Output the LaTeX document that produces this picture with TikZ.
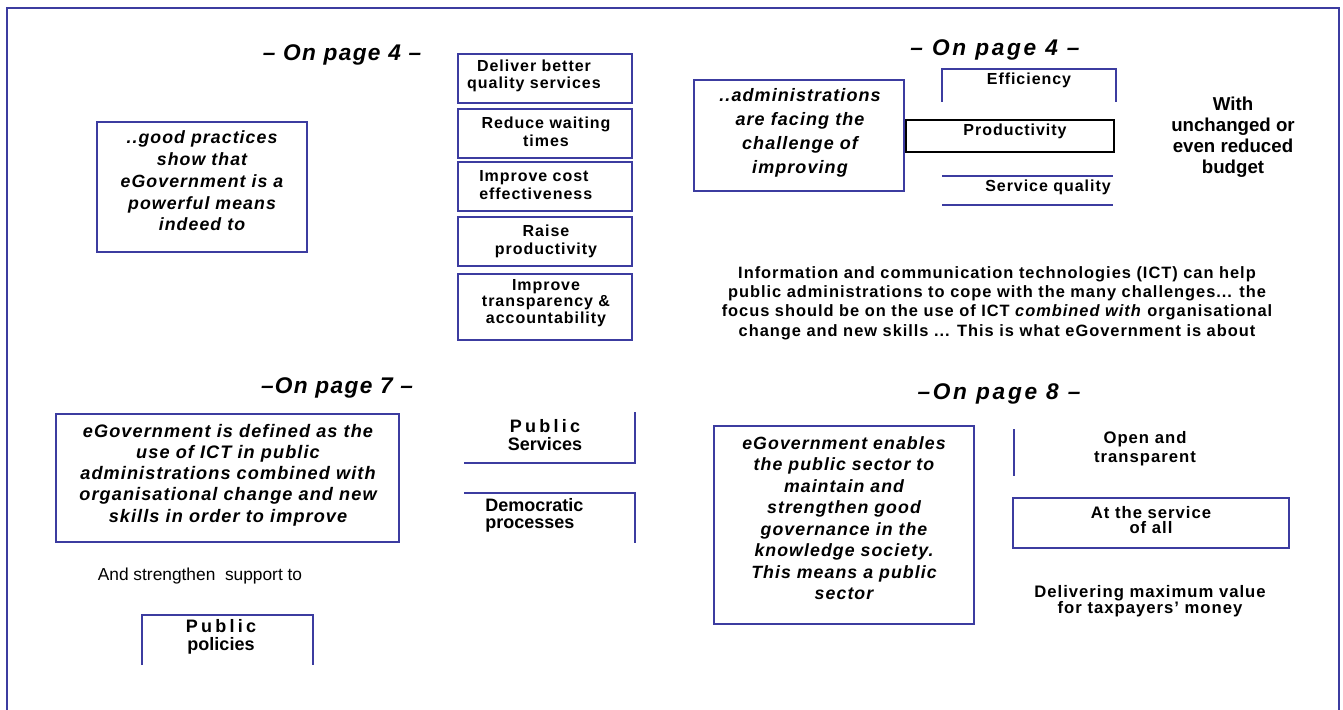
\documentclass[tikz,border=0pt]{standalone}
\usepackage{fontspec}
\setmainfont{Liberation Sans}
\newfontfamily\spaced[LetterSpace=6]{Liberation Sans}
\newfontfamily\wider[LetterSpace=12]{Liberation Sans}
\newfontfamily\widespaced[LetterSpace=18]{Liberation Sans}
\usepackage{xcolor}
\definecolor{slateblue}{RGB}{60,60,160}

\begin{document}
\begin{tikzpicture}[x=0.75pt,y=-0.75pt,
	blueline/.style={draw=slateblue,line width=1.5pt},
	headline/.style={inner sep=0pt,font=\spaced\bfseries\itshape\fontsize{17}{19}\selectfont},
	wideheadline/.style={inner sep=0pt,font=\wider\bfseries\itshape\fontsize{17}{19}\selectfont},
	quote/.style 2 args={align=center,inner sep=0pt,font=\spaced\bfseries\itshape\fontsize{#1}{#2}\selectfont},
	itemtext/.style 2 args={align=center,inner sep=0pt,font=\spaced\bfseries\fontsize{#1}{#2}\selectfont}]
			
			\useasboundingbox (0,0) rectangle (1343,710);
			
			% outer frame, open at the bottom
			\draw[blueline] (7,710) -- (7,8) -- (1339,8) -- (1339,710);
			
			% page 4, left half
			\node[headline] (pgfourl) at (342,55) {– On page 4 –};
			\draw[blueline] (97,122) rectangle (307,252);
			\node[quote={13.3}{16.3}] (means) at (202,181) {..good practices\\show that\\eGovernment is a\\powerful means\\indeed to};
			
			% list of aims
			\foreach \t/\b in {54/103,109/158,162/211,217/266,274/340}
			\draw[blueline] (458,\t) rectangle (632,\b);
			\node[itemtext={12}{12.8}] (deliver) at (534,76) {Deliver better\\quality services};
			\node[itemtext={12}{13.7}] (waiting) at (546,132) {Reduce waiting\\times};
			\node[itemtext={12}{13.5},align=left,anchor=west] (cost) at (479,185) {Improve cost\\effectiveness};
			\node[itemtext={12}{13.7}] (raise) at (546,241) {Raise\\productivity};
			\node[itemtext={12}{12.4}] (transp) at (546,303) {Improve\\transparency \&\\accountability};
			
			% page 4, right half
			\node[wideheadline] (pgfourr) at (995,50) {– On page 4 –};
			\draw[blueline] (694,80) rectangle (904,191);
			\node[quote={13.5}{18}] (admin) at (800,133) {..administrations\\are facing the\\challenge of\\improving};
			
			% efficiency
			\draw[blueline] (942,102) -- (942,69) -- (1116,69) -- (1116,102);
			\node[itemtext={12}{14}] (effic) at (1029,80) {Efficiency};
			
			% productivity
			\draw[line width=1.5pt] (906,120) rectangle (1114,152);
			\node[itemtext={12}{14}] (prod) at (1015,131) {Productivity};
			
			% service quality
			\draw[blueline] (942,176) -- (1113,176);
			\draw[blueline] (942,205) -- (1113,205);
			\node[itemtext={12}{14}] (servq) at (1048,187) {Service quality};
			
			\node[align=center,inner sep=0pt,font=\bfseries\fontsize{14}{15.75}\selectfont] (budget) at (1233,137) {With\\unchanged or\\even reduced\\budget};
			
			\node[itemtext={12.3}{14.4}] (ict) at (997,303) {Information and communication technologies (ICT) can help\\public administrations to cope with the many challenges... the\\focus should be on the use of ICT \textit{combined with} organisational\\change and new skills ... This is what eGovernment is about};
			
			% page 7
			\node[headline] (pgseven) at (337,388) {–On page 7 –};
			\draw[blueline] (56,414) rectangle (399,542);
			\node[quote={13.6}{15.9}] (defined) at (228,475) {eGovernment is defined as the\\use of ICT in public\\administrations combined with\\organisational change and new\\skills in order to improve};
			
			% public services
			\draw[blueline] (464,463) -- (635,463) -- (635,412);
			\node[align=center,inner sep=0pt,font=\bfseries\fontsize{13.5}{13.5}\selectfont] (pubserv) at (545,435) {{\widespaced Public}\\Services};
			
			% democratic processes
			\draw[blueline] (464,493) -- (635,493) -- (635,543);
			\node[align=left,anchor=west,inner sep=0pt,font=\bfseries\fontsize{13.5}{12.8}\selectfont] (democ) at (485,515) {Democratic\\processes};
			
			\node[inner sep=0pt,font=\fontsize{13}{15}\selectfont] (support) at (200,576) {And strengthen~ support to};
			
			% public policies
			\draw[blueline] (142,665) -- (142,615) -- (313,615) -- (313,665);
			\node[align=center,inner sep=0pt,font=\bfseries\fontsize{13.5}{13.5}\selectfont] (pubpol) at (221,637) {{\widespaced Public}\\policies};
			
			% page 8
			\node[wideheadline] (pgeight) at (999,394) {–On page 8 –};
			\draw[blueline] (714,426) rectangle (974,624);
			\node[quote={13.3}{16.1}] (enables) at (844,518) {eGovernment enables\\the public sector to\\maintain and\\strengthen good\\governance in the\\knowledge society.\\This means a public\\sector};
			
			% open and transparent
			\draw[blueline] (1014,429) -- (1014,476);
			\node[itemtext={12.5}{14.25}] (open) at (1145,449) {Open and\\transparent};
			
			% at the service of all
			\draw[blueline] (1013,498) rectangle (1289,548);
			\node[itemtext={12.5}{11.8}] (service) at (1151,520) {At the service\\of all};
			
			\node[itemtext={12.5}{12}] (value) at (1150,601) {Delivering maximum value\\for taxpayers’ money};
			
		\end{tikzpicture}
\end{document}
